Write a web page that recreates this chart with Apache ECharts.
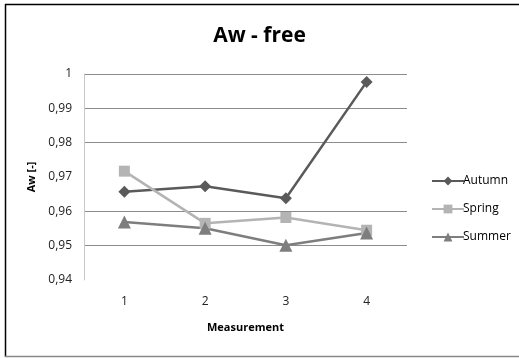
<!DOCTYPE html>
<html>
<head>
<meta charset="utf-8">
<script src="https://cdn.jsdelivr.net/npm/echarts@6/dist/echarts.min.js"></script>
<style>
  html, body { margin: 0; padding: 0; background: #fff; }
  #chart { width: 519px; height: 358px; }
</style>
</head>
<body>
<div id="chart"></div>
<script>
// Water activity (Aw) of the free sample, per measurement round
const categories = ['1', '2', '3', '4'];
const autumn = [0.9657, 0.9673, 0.9638, 0.9977];
const spring = [0.9717, 0.9565, 0.9582, 0.9545];
const summer = [0.9569, 0.9551, 0.9501, 0.9537];
const yTicks = [0.94, 0.95, 0.96, 0.97, 0.98, 0.99, 1];

const font = '"Open Sans", "Liberation Sans", sans-serif';
const chart = echarts.init(document.getElementById('chart'), null, { renderer: 'canvas' });

function fmt(v) {
  return String(Math.round(v * 100) / 100).replace('.', ',');
}

chart.setOption({
  animation: false,
  backgroundColor: '#fff',
  title: {
    text: 'Aw - free',
    left: 'center',
    top: 21,
    textStyle: { fontFamily: font, fontSize: 21, fontWeight: 'bold', color: '#000' }
  },
  legend: {
    orient: 'vertical',
    left: 426,
    top: 170,
    itemGap: 16,
    itemWidth: 32,
    itemHeight: 11,
    textStyle: { fontFamily: font, fontSize: 12, color: '#000', padding: [0, 0, 0, -6] },
    data: ['Autumn', 'Spring', 'Summer']
  },
  grid: { left: 84, right: 112, top: 74, bottom: 78 },
  xAxis: {
    type: 'category',
    data: categories,
    name: 'Measurement',
    nameLocation: 'middle',
    nameGap: 42,
    nameTextStyle: { fontFamily: font, fontSize: 11, fontWeight: 'bold', color: '#000' },
    axisLine: { show: false },
    axisTick: { show: false },
    axisLabel: { margin: 16, fontFamily: font, fontSize: 12, color: '#222' }
  },
  yAxis: {
    type: 'value',
    min: yTicks[0],
    max: yTicks[yTicks.length - 1],
    interval: 0.01,
    name: 'Aw [-]',
    nameLocation: 'middle',
    nameGap: 46,
    nameTextStyle: { fontFamily: font, fontSize: 11, fontWeight: 'bold', color: '#000' },
    axisLine: { show: true, lineStyle: { color: '#c8c8c8', width: 1 } },
    axisTick: { show: false },
    axisLabel: { margin: 12, fontFamily: font, fontSize: 12, color: '#222', formatter: fmt },
    splitLine: {
      show: true,
      lineStyle: {
        color: ['transparent', '#8c8c8c', '#8c8c8c', 'transparent', '#8c8c8c', '#8c8c8c', '#8c8c8c'],
        width: 1
      }
    }
  },
  series: [
    {
      name: 'Autumn', type: 'line', data: autumn,
      symbol: 'diamond', symbolSize: 12,
      lineStyle: { color: '#5a5a5a', width: 2.5 },
      itemStyle: { color: '#5a5a5a' }
    },
    {
      name: 'Spring', type: 'line', data: spring,
      symbol: 'rect', symbolSize: 11,
      lineStyle: { color: '#b4b4b4', width: 2.5 },
      itemStyle: { color: '#b4b4b4' }
    },
    {
      name: 'Summer', type: 'line', data: summer,
      symbol: 'triangle', symbolSize: 13,
      lineStyle: { color: '#7e7e7e', width: 2.5 },
      itemStyle: { color: '#7e7e7e' }
    }
  ],
  graphic: [
    { type: 'line', shape: { x1: 5, y1: 4.5, x2: 519, y2: 4.5 }, style: { stroke: '#000', lineWidth: 1.5 } },
    { type: 'line', shape: { x1: 5.5, y1: 4, x2: 5.5, y2: 357 }, style: { stroke: '#000', lineWidth: 1.5 } },
    { type: 'line', shape: { x1: 5, y1: 356.5, x2: 519, y2: 356.5 }, style: { stroke: '#888', lineWidth: 1.5 } }
  ]
});
</script>
</body>
</html>
